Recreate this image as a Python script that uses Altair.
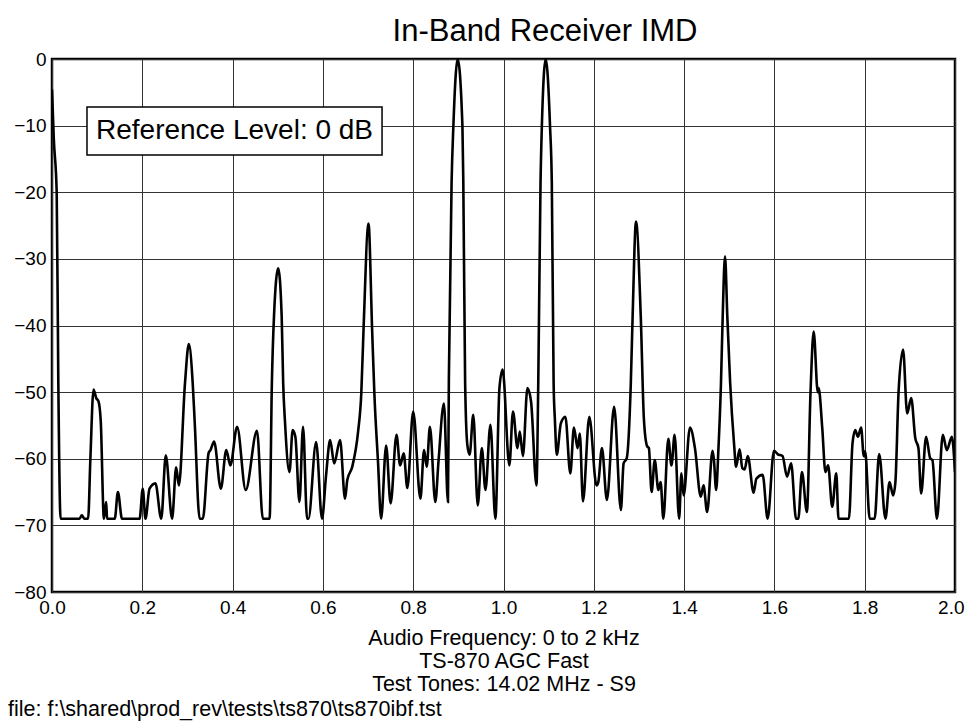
import altair as alt
import pandas as pd

# Spectrum trace (frequency in kHz, level in dB)
freq = [0.000, 0.004, 0.0104, 0.014, 0.019, 0.061, 0.066, 0.072, 0.080, 0.085,
        0.092, 0.098, 0.103, 0.108, 0.115, 0.120, 0.122, 0.139, 0.146, 0.155,
        0.194, 0.201, 0.207, 0.216, 0.229, 0.242, 0.252, 0.266, 0.275, 0.281,
        0.2946, 0.303, 0.3116, 0.316, 0.327, 0.334, 0.347, 0.351, 0.359, 0.374,
        0.386, 0.395, 0.410, 0.429, 0.454, 0.467, 0.482, 0.487, 0.4917, 0.501,
        0.5087, 0.512, 0.516, 0.526, 0.533, 0.539, 0.548, 0.556, 0.565, 0.568,
        0.585, 0.598, 0.607, 0.616, 0.625, 0.638, 0.649, 0.654, 0.665, 0.678,
        0.685, 0.690, 0.701, 0.709, 0.714, 0.722, 0.729, 0.740, 0.750, 0.763,
        0.771, 0.779, 0.787, 0.800, 0.816, 0.824, 0.830, 0.837, 0.849, 0.856,
        0.868, 0.877, 0.879, 0.885, 0.889, 0.8985, 0.909, 0.911, 0.915, 0.920,
        0.925, 0.933, 0.943, 0.952, 0.960, 0.971, 0.982, 0.991, 0.998, 1.013,
        1.021, 1.031, 1.036, 1.043, 1.053, 1.061, 1.073, 1.077, 1.082, 1.085,
        1.0935, 1.103, 1.107, 1.111, 1.114, 1.118, 1.127, 1.137, 1.148, 1.156,
        1.164, 1.169, 1.176, 1.190, 1.206, 1.210, 1.218, 1.229, 1.245, 1.260,
        1.266, 1.273, 1.282, 1.286, 1.2935, 1.304, 1.311, 1.318, 1.322, 1.328,
        1.335, 1.343, 1.348, 1.354, 1.365, 1.372, 1.379, 1.389, 1.394, 1.399,
        1.413, 1.424, 1.437, 1.443, 1.451, 1.463, 1.466, 1.471, 1.476, 1.4817,
        1.4855, 1.4906, 1.4957, 1.502, 1.511, 1.515, 1.523, 1.529, 1.534, 1.541,
        1.554, 1.560, 1.574, 1.585, 1.599, 1.607, 1.618, 1.628, 1.637, 1.648,
        1.653, 1.661, 1.672, 1.680, 1.687, 1.696, 1.698, 1.706, 1.713, 1.719,
        1.728, 1.737, 1.742, 1.765, 1.773, 1.779, 1.785, 1.792, 1.798, 1.801,
        1.811, 1.822, 1.832, 1.846, 1.855, 1.863, 1.868, 1.875, 1.885, 1.894,
        1.903, 1.912, 1.919, 1.925, 1.936, 1.945, 1.950, 1.960, 1.973, 1.982,
        1.993, 2.000]
level = [-4.6, -12.0, -20.0, -48.6, -69.0, -69.0, -68.5, -69.0, -69.0, -60.0,
         -49.6, -50.9, -51.4, -54.4, -69.0, -66.5, -69.0, -69.0, -65.0, -69.0,
         -69.0, -64.5, -69.0, -64.5, -63.7, -69.0, -59.5, -69.0, -61.3, -64.0,
         -48.6, -42.8, -48.6, -54.4, -69.0, -69.0, -59.1, -58.7, -57.4, -64.5,
         -58.7, -61.0, -55.2, -64.7, -55.8, -69.0, -69.0, -48.6, -38.6, -31.4,
         -38.6, -48.6, -54.4, -62.0, -55.7, -56.7, -66.5, -55.2, -69.0, -69.0,
         -57.5, -69.0, -62.5, -57.2, -60.7, -57.2, -66.0, -63.2, -61.2, -55.9,
         -50.2, -40.6, -24.7, -40.6, -50.2, -60.4, -69.0, -58.0, -66.7, -56.4,
         -61.0, -59.2, -64.4, -52.9, -66.0, -58.7, -61.2, -55.2, -66.5, -60.4,
         -51.7, -66.5, -48.0, -18.6, -10.0, 0.0, -10.0, -18.6, -48.6, -58.0,
         -59.4, -53.4, -67.0, -58.4, -64.7, -54.9, -69.0, -49.4, -46.6, -61.0,
         -52.9, -58.4, -55.9, -59.6, -49.4, -51.4, -64.0, -48.6, -18.6, -10.0,
         0.0, -10.0, -18.6, -48.6, -54.4, -59.4, -54.7, -53.7, -62.2, -55.3,
         -58.4, -56.2, -66.4, -53.7, -64.0, -63.5, -58.4, -66.2, -52.2, -67.7,
         -60.7, -59.9, -48.6, -38.6, -24.4, -38.6, -54.1, -58.1, -58.4, -65.0,
         -60.2, -64.7, -63.5, -69.0, -57.0, -61.0, -56.4, -69.0, -62.2, -65.5,
         -55.3, -58.4, -65.7, -64.0, -68.0, -58.8, -60.1, -64.7, -58.6, -48.6,
         -38.6, -29.6, -38.6, -48.6, -58.1, -61.2, -58.6, -61.4, -61.6, -59.6,
         -65.1, -63.0, -62.4, -69.0, -58.8, -59.3, -59.6, -62.7, -60.7, -69.0,
         -69.0, -62.0, -68.0, -50.0, -40.9, -50.0, -49.4, -55.4, -62.0, -61.0,
         -67.2, -62.2, -69.0, -69.0, -57.7, -55.7, -56.7, -55.3, -59.6, -58.9,
         -69.0, -69.0, -59.3, -69.0, -63.5, -65.5, -63.5, -50.0, -43.6, -53.2,
         -50.9, -56.9, -58.4, -65.2, -56.7, -59.9, -60.2, -69.0, -56.4, -58.7,
         -56.7, -62.0]

x_ticks = [0.0, 0.2, 0.4, 0.6, 0.8, 1.0, 1.2, 1.4, 1.6, 1.8, 2.0]
y_ticks = [-80, -70, -60, -50, -40, -30, -20, -10, 0]

title_text = "In-Band Receiver IMD"
x_title = ["Audio Frequency: 0 to 2 kHz", "TS-870 AGC Fast", "Test Tones: 14.02 MHz - S9"]
footer_text = "file: f:\\shared\\prod_rev\\tests\\ts870\\ts870ibf.tst"

box_label = ["Reference Level: 0 dB"]
box_x1 = [0.0775]
box_x2 = [0.731]
box_y1 = [-7.2]
box_y2 = [-14.4]

FONT = "Liberation Sans"
W, H = 903, 533

df = pd.DataFrame({"freq": freq, "level": level})
box = pd.DataFrame({"label": box_label, "x1": box_x1, "x2": box_x2,
                    "y1": box_y1, "y2": box_y2})
box["xm"] = (box["x1"] + box["x2"]) / 2
box["ym"] = (box["y1"] + box["y2"]) / 2

xscale = alt.Scale(domain=[0, 2], nice=False, zero=False)
yscale = alt.Scale(domain=[-80, 0], nice=False)

# keep the last label ("2.0") inside the page edge
xaxis = alt.Axis(values=x_ticks, format=".1f",
                 labelAlign={"condition": {"test": "datum.value >= 2", "value": "right"},
                             "value": "center"},
                 labelOffset={"condition": {"test": "datum.value >= 2", "value": 9},
                              "value": 0},
                 title=x_title, grid=True,
                 gridColor="#333", gridWidth=1, tickSize=0, domain=False,
                 labelFlush=False, labelOverlap=False,
                 labelFontSize=19, labelFont=FONT, labelColor="black",
                 labelPadding=6, titleFont=FONT, titleFontSize=21.5,
                 titleFontWeight="normal", titleColor="black",
                 titleLineHeight=23, titlePadding=10)
yaxis = alt.Axis(values=y_ticks, format="d", title=None, grid=True,
                 gridColor="#333", gridWidth=1, tickSize=0, domain=False,
                 labelFlush=False, labelOverlap=False,
                 labelFontSize=19, labelFont=FONT, labelColor="black",
                 labelPadding=6)

line = alt.Chart(df).mark_line(color="black", strokeWidth=2.6, clip=True,
                               interpolate="monotone").encode(
    x=alt.X("freq:Q", scale=xscale, axis=xaxis),
    y=alt.Y("level:Q", scale=yscale, axis=yaxis),
)

rect = alt.Chart(box).mark_rect(fill="white", stroke="black", strokeWidth=1.5).encode(
    x=alt.X("x1:Q", scale=xscale), x2="x2:Q",
    y=alt.Y("y1:Q", scale=yscale), y2="y2:Q",
)
rect_text = alt.Chart(box).mark_text(font=FONT, fontSize=28, color="black",
                                     align="center", baseline="middle").encode(
    x=alt.X("xm:Q", scale=xscale), y=alt.Y("ym:Q", scale=yscale), text="label:N"
)

title_mark = alt.Chart(pd.DataFrame({"t": [title_text]})).mark_text(
    font=FONT, fontSize=31, color="black", align="center", baseline="alphabetic"
).encode(x=alt.value(493), y=alt.value(-18), text="t:N")

footer_mark = alt.Chart(pd.DataFrame({"t": [footer_text]})).mark_text(
    font=FONT, fontSize=21.5, color="black", align="left", baseline="alphabetic"
).encode(x=alt.value(-44), y=alt.value(657), text="t:N")

chart = alt.layer(rect, rect_text, line, title_mark, footer_mark).properties(
    width=W, height=H,
    autosize=alt.AutoSizeParams(type="none"),
    padding={"left": 44, "top": 51, "right": 10, "bottom": 130},
    background="white",
).configure_view(stroke="black", strokeWidth=2.5)

chart.save("out.html", embed_options={"renderer": "svg", "actions": False})
